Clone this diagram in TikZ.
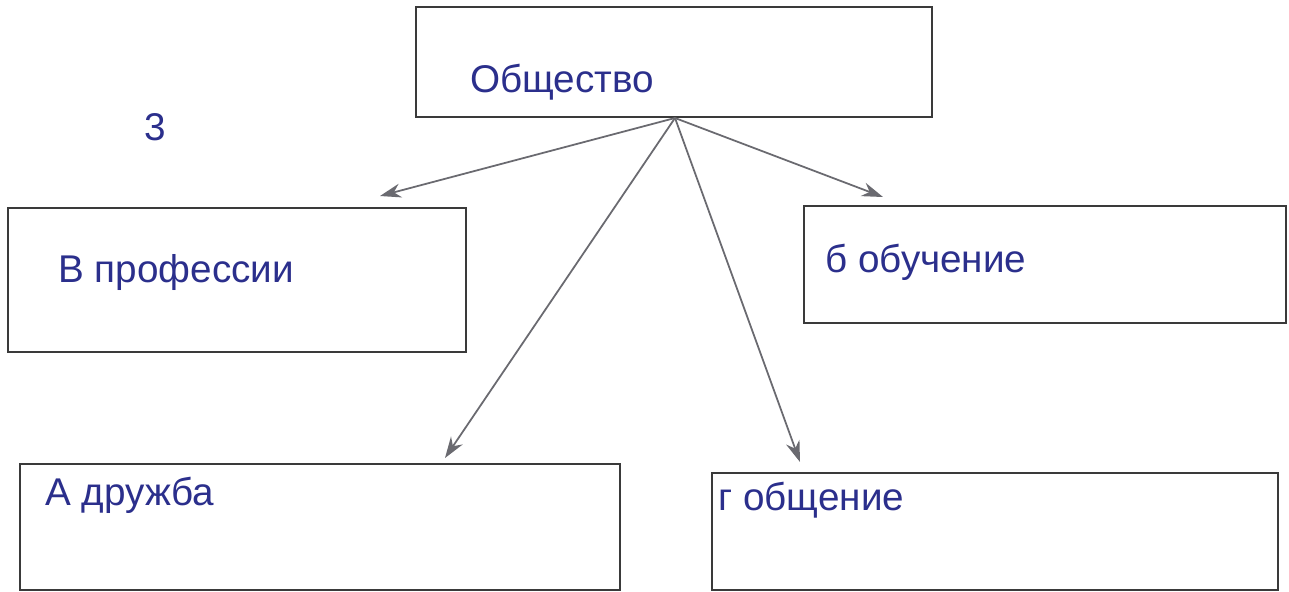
\documentclass[tikz,border=0pt]{standalone}
\usepackage{fontspec}
\setmainfont{Liberation Sans}
\usetikzlibrary{arrows.meta}
\definecolor{ink}{HTML}{2B2F8C}
\definecolor{boxline}{HTML}{3A3A3A}
\definecolor{arrowc}{HTML}{6A6A70}
\begin{document}
\begin{tikzpicture}[x=0.02cm,y=-0.02cm,
  box/.style={draw=boxline,line width=1.1pt,inner sep=0pt},
  hand/.style={text=ink,anchor=base west,inner sep=0pt,font=\fontsize{22}{24}\selectfont},
  conn/.style={draw=arrowc,line width=1pt,-{Stealth[length=12pt,width=8pt]}}]
\useasboundingbox (0,0) rectangle (1289,592);
\fill[white] (0,0) rectangle (1289,592);
% boxes
\draw[box] (416,7) rectangle (932,117);
\coordinate (top) at (675,118);
\draw[box] (8,208) rectangle (466,352);
\draw[box] (804,206) rectangle (1286,323);
\draw[box] (20,464) rectangle (620,590);
\draw[box] (712,473) rectangle (1278,590);
% texts
\node[hand] (t0) at (470,92) {Общество};
\node[hand] (t1) at (58,282) {В профессии};
\node[hand] (t2) at (825,272) {б обучение};
\node[hand] (t3) at (45,505) {А дружба};
\node[hand] (t4) at (718,510) {г общение};
\node[text=ink,font=\fontsize{22}{24}\selectfont] (three) at (155,127) {3};
% arrow tips
\coordinate (e1) at (380,196);
\coordinate (e2) at (883,197);
\coordinate (e3) at (445,458);
\coordinate (e4) at (800,462);
\draw[conn] (top) -- (e1);
\draw[conn] (top) -- (e2);
\draw[conn] (top) -- (e3);
\draw[conn] (top) -- (e4);
\end{tikzpicture}
\end{document}
